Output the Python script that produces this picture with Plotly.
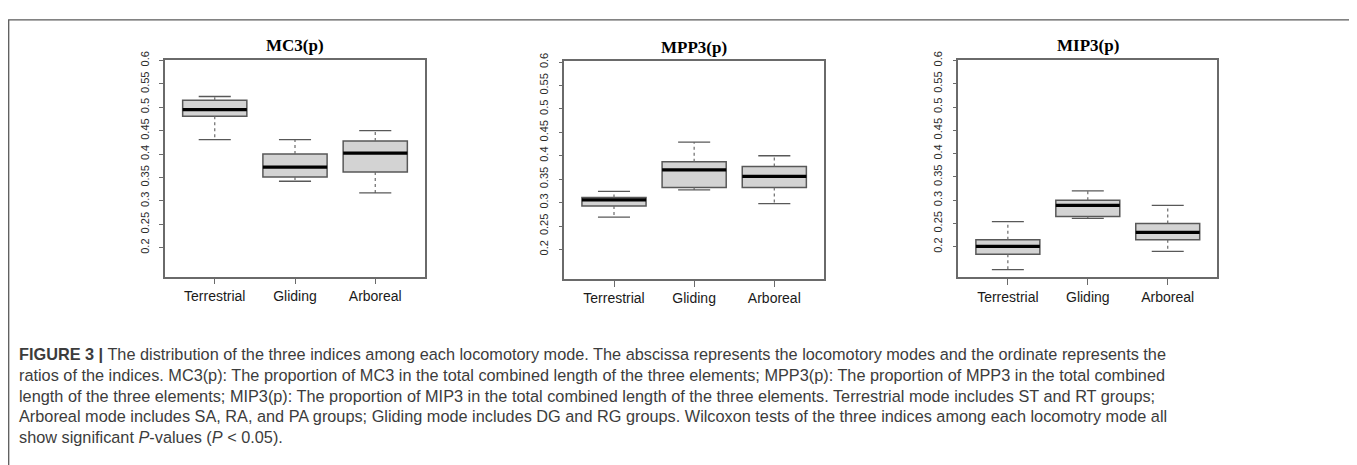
import plotly.graph_objects as go

W, H = 1357, 465
# the page body has an 8px default margin; compensate so positions match the target
OX, OY = 8, 8

categories = ["Terrestrial", "Gliding", "Arboreal"]
ytick_vals = [0.2, 0.25, 0.3, 0.35, 0.4, 0.45, 0.5, 0.55, 0.6]
ytick_text = ["0.2", "0.25", "0.3", "0.35", "0.4", "0.45", "0.5", "0.55", "0.6"]

# MC3(p)
mc3_low = [0.431, 0.342, 0.317]
mc3_q1 = [0.481, 0.351, 0.362]
mc3_med = [0.495, 0.372, 0.402]
mc3_q3 = [0.515, 0.400, 0.428]
mc3_high = [0.523, 0.431, 0.450]

# MPP3(p)
mpp3_low = [0.269, 0.327, 0.298]
mpp3_q1 = [0.293, 0.332, 0.332]
mpp3_med = [0.306, 0.370, 0.356]
mpp3_q3 = [0.311, 0.387, 0.377]
mpp3_high = [0.324, 0.429, 0.400]

# MIP3(p)
mip3_low = [0.151, 0.261, 0.190]
mip3_q1 = [0.184, 0.265, 0.215]
mip3_med = [0.201, 0.289, 0.231]
mip3_q3 = [0.215, 0.300, 0.250]
mip3_high = [0.254, 0.320, 0.289]

titles = ["MC3(p)", "MPP3(p)", "MIP3(p)"]

caption_lines = [
    "<b>FIGURE 3 |</b> The distribution of the three indices among each locomotory mode. The abscissa represents the locomotory modes and the ordinate represents the",
    "ratios of the indices. MC3(p): The proportion of MC3 in the total combined length of the three elements; MPP3(p): The proportion of MPP3 in the total combined",
    "length of the three elements; MIP3(p): The proportion of MIP3 in the total combined length of the three elements. Terrestrial mode includes ST and RT groups;",
    "Arboreal mode includes SA, RA, and PA groups; Gliding mode includes DG and RG groups. Wilcoxon tests of the three indices among each locomotry mode all",
    "show significant <i>P</i>-values (<i>P</i> &lt; 0.05).",
]

panels = [
    (mc3_low, mc3_q1, mc3_med, mc3_q3, mc3_high),
    (mpp3_low, mpp3_q1, mpp3_med, mpp3_q3, mpp3_high),
    (mip3_low, mip3_q1, mip3_med, mip3_q3, mip3_high),
]


def px(x):
    return (x - OX) / W


def py(y):
    return 1 - (y - OY) / H


panel_x = [(165, 425), (564.3, 824), (958.3, 1217.3)]
panel_y = [(51.7, 272.7), (53.3, 275), (51.7, 273.3)]
y_ranges = [(0.1384, 0.6013), (0.1372, 0.6015), (0.1347, 0.6013)]
title_y = [36.7, 39.5, 36.7]

BOX_W = 0.8
STAPLE_W = 0.4
FRAME = "#6a6a6a"
BOXLINE = "#585858"

fig = go.Figure()
layout = {}
annotations = []

for i, (low, q1, med, q3, high) in enumerate(panels):
    n = i + 1
    xa = "x" if n == 1 else f"x{n}"
    ya = "y" if n == 1 else f"y{n}"
    pos = list(range(len(categories)))

    fig.add_trace(go.Box(
        x=pos, q1=q1, median=med, q3=q3, lowerfence=q1, upperfence=q3,
        width=BOX_W, whiskerwidth=0, boxpoints=False,
        fillcolor="#d3d3d3", line=dict(color=BOXLINE, width=1.5),
        hoverinfo="skip", showlegend=False, xaxis=xa, yaxis=ya,
    ))

    wx, wy, sx, sy, mx, my = [], [], [], [], [], []
    for j in pos:
        wx += [j, j, None, j, j, None]
        wy += [q3[j], high[j], None, q1[j], low[j], None]
        sx += [j - STAPLE_W / 2, j + STAPLE_W / 2, None, j - STAPLE_W / 2, j + STAPLE_W / 2, None]
        sy += [high[j], high[j], None, low[j], low[j], None]
        mx += [j - BOX_W / 2, j + BOX_W / 2, None]
        my += [med[j], med[j], None]

    fig.add_trace(go.Scatter(x=wx, y=wy, mode="lines",
                             line=dict(color="#6a6a6a", width=1.2, dash="3px,3px"),
                             hoverinfo="skip", showlegend=False, xaxis=xa, yaxis=ya))
    fig.add_trace(go.Scatter(x=sx, y=sy, mode="lines",
                             line=dict(color=BOXLINE, width=1.3),
                             hoverinfo="skip", showlegend=False, xaxis=xa, yaxis=ya))
    fig.add_trace(go.Scatter(x=mx, y=my, mode="lines",
                             line=dict(color="black", width=3.2),
                             hoverinfo="skip", showlegend=False, xaxis=xa, yaxis=ya))

    x0, x1 = panel_x[i]
    y0, y1 = panel_y[i]
    layout["xaxis" if n == 1 else f"xaxis{n}"] = dict(
        domain=[px(x0), px(x1)], anchor=ya, range=[-0.62, 2.62],
        tickmode="array", tickvals=pos, ticktext=categories,
        ticks="outside", ticklen=6, tickwidth=1.2, tickcolor=FRAME,
        showline=True, mirror=True, linecolor=FRAME, linewidth=1.5,
        showgrid=False, zeroline=False, fixedrange=True,
        tickfont=dict(family="Liberation Sans, Arial", size=14, color="#1a1a1a"),
    )
    layout["yaxis" if n == 1 else f"yaxis{n}"] = dict(
        domain=[py(y1), py(y0)], anchor=xa, range=list(y_ranges[i]),
        tickmode="array", tickvals=ytick_vals, ticktext=ytick_text,
        ticks="outside", ticklen=4, tickwidth=1.2, tickcolor=FRAME,
        tickangle=-90, ticklabelstandoff=6,
        showline=True, mirror=True, linecolor=FRAME, linewidth=1.5,
        showgrid=False, zeroline=False, fixedrange=True,
        tickfont=dict(family="Liberation Sans, Arial", size=11, color="#2a2a2a"),
    )
    annotations.append(dict(
        text=f"<b>{titles[i]}</b>", xref="paper", yref="paper",
        x=px((x0 + x1) / 2), y=py(title_y[i]), xanchor="center", yanchor="middle",
        showarrow=False, font=dict(family="Liberation Serif, Times New Roman", size=17, color="black"),
    ))

caption_y = [352, 373, 394, 415, 436]
for k, line in enumerate(caption_lines):
    annotations.append(dict(
        text=line, xref="paper", yref="paper", x=px(17), y=py(caption_y[k]),
        xanchor="left", yanchor="middle", showarrow=False, align="left",
        font=dict(family="Liberation Sans, Arial", size=16.3, color="#3c3c3c"),
    ))

shapes = [dict(type="rect", xref="paper", yref="paper",
               x0=px(8.7), x1=px(1354), y0=py(480), y1=py(11),
               line=dict(color="#5a5a5a", width=1.3))]

fig.update_layout(
    width=W, height=H, margin=dict(l=0, r=0, t=0, b=0),
    paper_bgcolor="white", plot_bgcolor="white",
    annotations=annotations, shapes=shapes,
    **layout,
)

fig.write_html("out.html")
